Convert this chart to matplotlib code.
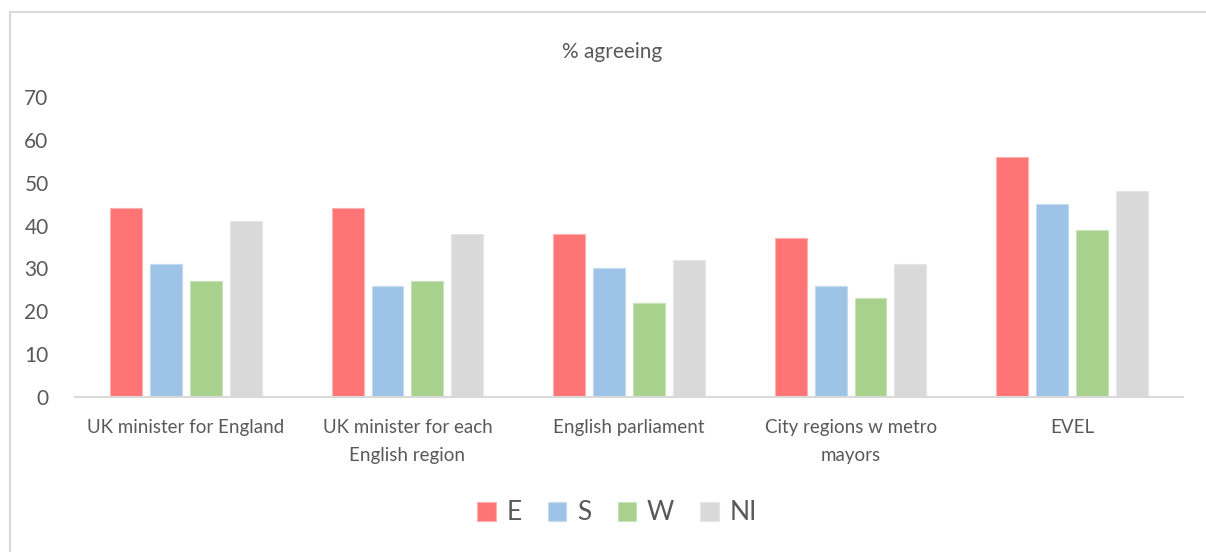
import numpy as np
import matplotlib.pyplot as plt
from matplotlib.patches import Rectangle

categories = ['UK minister for England', 'UK minister for each\nEnglish region',
              'English parliament', 'City regions w metro\nmayors', 'EVEL']
series = ['E', 'S', 'W', 'NI']
e_vals = [44, 44, 38, 37, 56]
s_vals = [31, 26, 30, 26, 45]
w_vals = [27, 27, 22, 23, 39]
ni_vals = [41, 38, 32, 31, 48]
yticks = [0, 10, 20, 30, 40, 50, 60, 70]

colors = ['#FF7575', '#9DC3E6', '#A9D18E', '#D9D9D9']
edges = ['#FFB0B0', '#C4DAF0', '#C9E3B8', '#E6E6E6']
text_col = '#595959'

plt.rcParams['font.family'] = ['Lato', 'DejaVu Sans']

W, H = 1206, 552
fig = plt.figure(figsize=(W / 100, H / 100), dpi=100)

# chart area border (runs off the right and bottom edges)
fig.patches.append(Rectangle((10 / W, -0.2), 1.2, (H - 12) / H + 0.2, transform=fig.transFigure,
                             fill=False, edgecolor='#D9D9D9', linewidth=1.5))

ax = fig.add_axes([75 / W, (H - 397) / H, (1183 - 75) / W, (397 - 97) / H])

x = np.arange(len(categories))
width = 0.144
step = 0.18
for i, (name, vals) in enumerate(zip(series, [e_vals, s_vals, w_vals, ni_vals])):
    ax.bar(x + (i - 1.5) * step, vals, width, color=colors[i], edgecolor=edges[i],
           linewidth=0.8, label=name)

ax.set_xlim(-0.5, len(categories) - 0.5)
ax.set_ylim(0, 70)
ax.set_yticks(yticks)
ax.set_xticks(x)
ax.set_xticklabels(categories, fontsize=13.5, color=text_col, linespacing=1.75)
ax.tick_params(axis='y', labelsize=15, colors=text_col, length=0, pad=19)
ax.tick_params(axis='x', length=0, pad=16)
for s in ['top', 'right', 'left']:
    ax.spines[s].set_visible(False)
ax.spines['bottom'].set_color('#D9D9D9')
ax.spines['bottom'].set_linewidth(1.5)

fig.text(612 / W, (H - 52) / H, '% agreeing', ha='center', va='center',
         fontsize=15, color=text_col)

leg = fig.legend(loc='center', bbox_to_anchor=(617 / W, (H - 513) / H), ncol=4,
                 frameon=False, fontsize=19, handlelength=0.7, handleheight=0.7,
                 handletextpad=0.4, columnspacing=1.0, labelcolor=text_col)

fig.savefig('out.png', dpi=100)
